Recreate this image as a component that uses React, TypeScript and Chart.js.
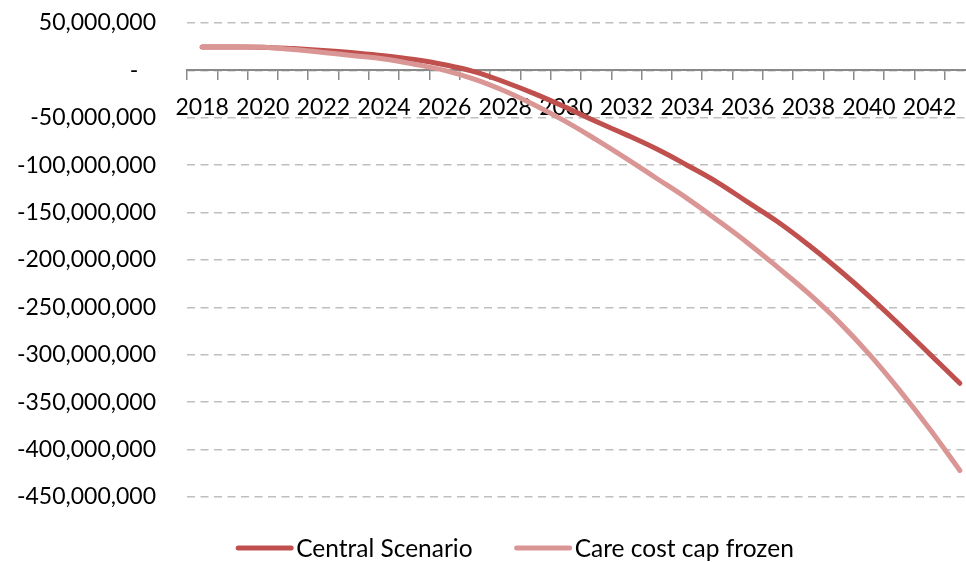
import React, { useEffect, useRef } from "react";
import { Chart, registerables } from "chart.js";

Chart.register(...registerables);

const years = [
  "2018", "2019", "2020", "2021", "2022", "2023", "2024", "2025", "2026",
  "2027", "2028", "2029", "2030", "2031", "2032", "2033", "2034", "2035",
  "2036", "2037", "2038", "2039", "2040", "2041", "2042", "2043",
];

const centralScenario = [
  24700000, 24700000, 24500000, 23000000, 21000000, 18500000, 15500000,
  11500000, 6000000, -1500000, -12500000, -25000000, -39000000, -54000000,
  -68000000, -83000000, -100000000, -118000000, -139000000, -160000000,
  -184000000, -210000000, -238000000, -268000000, -299000000, -330000000,
];

const careCostCapFrozen = [
  24700000, 24700000, 24300000, 22000000, 19000000, 15500000, 12000000,
  6500000, 0, -9500000, -22000000, -37000000, -54000000, -73000000,
  -93000000, -114000000, -135000000, -158000000, -182000000, -208000000,
  -235000000, -265000000, -299000000, -337000000, -378000000, -422000000,
];

const seriesLabels = ["Central Scenario", "Care cost cap frozen"];
const seriesColors = ["#C0504D", "#DA9694"];

const yMin = -450000000;
const yMax = 50000000;
const yStep = 50000000;

const FONT = "Lato, 'Open Sans', sans-serif";
const FONT_SIZE = 23;
const LEGEND_FONT_SIZE = 24.5;

const formatAmount = (v: number) =>
  v === 0 ? "-   " : Math.round(v).toLocaleString("en-US");

// Legend drawn under the plot: a short thick line followed by the series name.
const bottomLegend = {
  id: "bottomLegend",
  afterDraw(chart: any, _args: any, opts: any) {
    const ctx = chart.ctx as CanvasRenderingContext2D;
    ctx.save();
    ctx.font = `${LEGEND_FONT_SIZE}px ${FONT}`;
    ctx.textBaseline = "middle";
    ctx.textAlign = "left";
    const items = chart.data.datasets.map((ds: any) => ({
      label: ds.label as string,
      color: ds.borderColor as string,
      width: ctx.measureText(ds.label).width,
    }));
    const total = items.reduce(
      (sum: number, it: any, i: number) =>
        sum + opts.lineLength + opts.textGap + it.width + (i ? opts.itemGap : 0),
      0
    );
    let x = opts.centerX - total / 2;
    const y = opts.y;
    items.forEach((it: any, i: number) => {
      if (i) x += opts.itemGap;
      ctx.strokeStyle = it.color;
      ctx.lineWidth = 5;
      ctx.lineCap = "round";
      ctx.beginPath();
      ctx.moveTo(x + 2, y);
      ctx.lineTo(x + opts.lineLength - 2, y);
      ctx.stroke();
      x += opts.lineLength + opts.textGap;
      ctx.fillStyle = "#000";
      ctx.fillText(it.label, x, y + 1);
      x += it.width;
    });
    ctx.restore();
  },
};

export default function App() {
  const canvasRef = useRef<HTMLCanvasElement | null>(null);

  useEffect(() => {
    const canvas = canvasRef.current;
    if (!canvas) return;
    const chart = new Chart(canvas, {
      type: "line",
      data: {
        labels: years,
        datasets: [
          {
            label: seriesLabels[0],
            data: centralScenario,
            borderColor: seriesColors[0],
            backgroundColor: seriesColors[0],
            order: 1,
          },
          {
            label: seriesLabels[1],
            data: careCostCapFrozen,
            borderColor: seriesColors[1],
            backgroundColor: seriesColors[1],
            order: 0,
          },
        ],
      },
      plugins: [bottomLegend],
      options: {
        responsive: false,
        animation: false,
        devicePixelRatio: 1,
        layout: { padding: { top: 23, right: 5, bottom: 65, left: 0 } },
        elements: {
          line: {
            borderWidth: 5,
            borderCapStyle: "round",
            borderJoinStyle: "round",
            tension: 0.4,
          },
          point: { radius: 0, hoverRadius: 0 },
        },
        plugins: {
          legend: { display: false },
          tooltip: { enabled: false },
          bottomLegend: {
            centerX: 515,
            y: 548,
            lineLength: 57,
            textGap: 3,
            itemGap: 42,
          },
        } as any,
        scales: {
          x: {
            type: "category",
            position: { y: 0 } as any,
            offset: true,
            grid: {
              offset: true,
              drawOnChartArea: false,
              drawTicks: true,
              tickLength: 9,
              color: "#898989",
              lineWidth: 1.5,
            },
            border: { display: true, color: "#898989", width: 2 },
            ticks: {
              autoSkip: false,
              maxRotation: 0,
              minRotation: 0,
              padding: 14,
              color: "#000",
              font: { family: FONT, size: FONT_SIZE },
              callback: (_v: any, i: number) =>
                Number(years[i]) % 2 === 0 ? years[i] : "",
            },
          },
          y: {
            type: "linear",
            min: yMin,
            max: yMax,
            afterFit: (scale: any) => {
              // fixed axis width; keep the label gap from padding the plot vertically
              scale.width = 187;
              scale.paddingTop = 14;
              scale.paddingBottom = 14;
            },
            ticks: {
              stepSize: yStep,
              padding: 31,
              color: "#000",
              font: { family: FONT, size: FONT_SIZE },
              callback: (v: any) => formatAmount(Number(v)),
            },
            grid: {
              drawTicks: false,
              color: "#BFBFBF",
              lineWidth: 1.5,
            },
            border: { display: false, dash: [8, 5.5] },
          },
        },
      },
    });
    return () => chart.destroy();
  }, []);

  return (
    <div
      style={{
        position: "fixed",
        left: 0,
        top: 0,
        width: 966,
        height: 562,
        overflow: "hidden",
        background: "#fff",
      }}
    >
      <canvas
        ref={canvasRef}
        width={980}
        height={562}
        style={{ display: "block", width: 980, height: 562 }}
      />
    </div>
  );
}
